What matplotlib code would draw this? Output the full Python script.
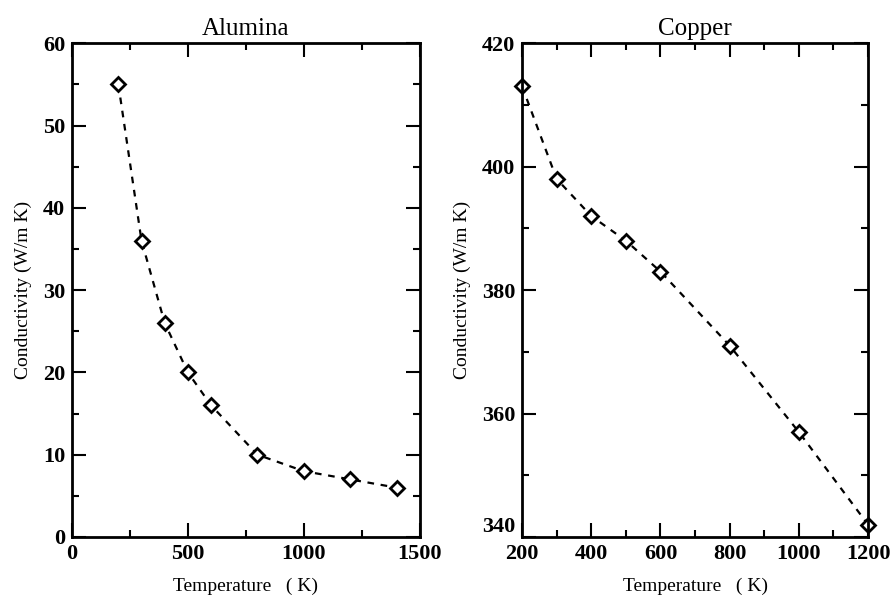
import matplotlib
matplotlib.use("Agg")
import matplotlib.pyplot as plt
from matplotlib.ticker import MultipleLocator

plt.rcParams['font.family'] = ['Liberation Serif', 'DejaVu Serif']

alumina_T = [200, 300, 400, 500, 600, 800, 1000, 1200, 1400]
alumina_k = [55, 36, 26, 20, 16, 10, 8, 7, 6]
copper_T = [200, 300, 400, 500, 600, 800, 1000, 1200]
copper_k = [413, 398, 392, 388, 383, 371, 357, 342]

fig = plt.figure(figsize=(8.94, 6.0), dpi=100)
ax1 = fig.add_axes([0.0805, 0.105, 0.389, 0.823])
ax2 = fig.add_axes([0.584, 0.105, 0.387, 0.823])

def style(ax, title):
    ax.set_title(title, fontsize=18, pad=6)
    ax.set_xlabel('Temperature   ( K)', fontsize=14, labelpad=10)
    ax.set_ylabel('Conductivity (W/m K)', fontsize=14, labelpad=8)
    ax.tick_params(which='both', direction='in', top=True, right=True, width=1.5)
    ax.tick_params(which='major', length=10, labelsize=16, pad=5)
    ax.tick_params(which='minor', length=5)
    for s in ax.spines.values():
        s.set_linewidth(2)
    for lab in ax.get_xticklabels() + ax.get_yticklabels():
        lab.set_fontweight('semibold')

kw = dict(linestyle=(0, (3, 3)), color='black', linewidth=1.6, marker='D', markersize=7,
          markerfacecolor='white', markeredgecolor='black', markeredgewidth=2, clip_on=False)

ax1.plot(alumina_T, alumina_k, **kw)
ax1.set_xlim(0, 1500)
ax1.set_ylim(0, 60)
ax1.xaxis.set_major_locator(MultipleLocator(500))
ax1.xaxis.set_minor_locator(MultipleLocator(250))
ax1.yaxis.set_major_locator(MultipleLocator(10))
ax1.yaxis.set_minor_locator(MultipleLocator(5))
style(ax1, 'Alumina')

ax2.plot(copper_T, copper_k, **kw)
ax2.set_xlim(200, 1200)
ax2.set_ylim(340, 420)
ax2.xaxis.set_major_locator(MultipleLocator(200))
ax2.xaxis.set_minor_locator(MultipleLocator(100))
ax2.yaxis.set_major_locator(MultipleLocator(20))
ax2.yaxis.set_minor_locator(MultipleLocator(10))
style(ax2, 'Copper')

fig.canvas.draw()
for lab in ax2.get_yticklabels():
    if lab.get_text() in ('340',):
        lab.set_verticalalignment('bottom')

fig.savefig('out.png', dpi=100)
